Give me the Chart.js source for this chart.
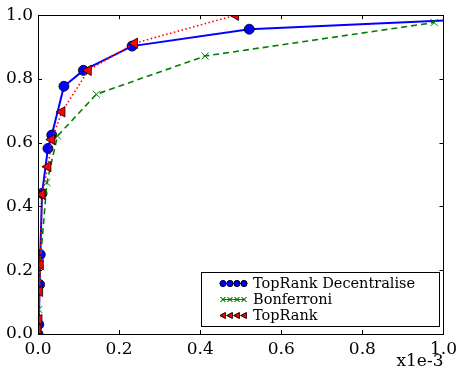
<!DOCTYPE html>
<html>
<head>
<meta charset="utf-8">
<script src="https://cdn.jsdelivr.net/npm/chart.js@4/dist/chart.umd.min.js"></script>
<style>
html,body{margin:0;padding:0;background:#fff;}
#wrap{width:462px;height:369px;position:relative;}
</style>
</head>
<body>
<div id="wrap"><canvas id="c" width="462" height="369"></canvas></div>
<script>
// x values in units of 1e-3
const decX = [0, 0.002, 0.004, 0.0056, 0.01, 0.0245, 0.034, 0.064, 0.112, 0.232, 0.521, 1.1];
const decY = [0, 0.03, 0.155, 0.249, 0.441, 0.582, 0.624, 0.777, 0.827, 0.903, 0.956, 0.989];
const bonX = [0, 0.002, 0.005, 0.022, 0.048, 0.144, 0.412, 0.977];
const bonY = [0, 0.077, 0.217, 0.475, 0.621, 0.752, 0.872, 0.977];
const topX = [0, 0.0024, 0.004, 0.0056, 0.01, 0.0245, 0.034, 0.059, 0.124, 0.238, 0.487, 1.1];
const topY = [0.014, 0.045, 0.134, 0.217, 0.438, 0.525, 0.61, 0.697, 0.827, 0.912, 1.0, 1.0];
const xTicks = [0, 0.2, 0.4, 0.6, 0.8, 1.0];
const yTicks = [0, 0.2, 0.4, 0.6, 0.8, 1.0];
const labels = ['TopRank Decentralise', 'Bonferroni', 'TopRank'];

const pts = (xs, ys) => xs.map((x, i) => ({x: x, y: ys[i]}));
const FONT = 'DejaVu Serif';

const frame = {
  id: 'frame',
  afterDatasetsDraw(chart) {
    const {ctx, chartArea: a, scales} = chart;
    ctx.save();
    ctx.strokeStyle = '#000';
    ctx.lineWidth = 1;
    ctx.beginPath();
    xTicks.forEach(v => {
      const px = Math.round(scales.x.getPixelForValue(v)) + 0.5;
      ctx.moveTo(px, a.bottom); ctx.lineTo(px, a.bottom - 4);
      ctx.moveTo(px, a.top); ctx.lineTo(px, a.top + 4);
    });
    yTicks.forEach(v => {
      const py = Math.round(scales.y.getPixelForValue(v)) + 0.5;
      ctx.moveTo(a.left, py); ctx.lineTo(a.left + 4, py);
      ctx.moveTo(a.right, py); ctx.lineTo(a.right - 4, py);
    });
    ctx.stroke();
    ctx.strokeRect(Math.round(a.left) + 0.5, Math.round(a.top) + 0.5,
                   Math.round(a.right - a.left), Math.round(a.bottom - a.top));
    // x multiplier label
    ctx.fillStyle = '#000';
    ctx.font = '17px "' + FONT + '"';
    ctx.textAlign = 'right';
    ctx.textBaseline = 'alphabetic';
    ctx.fillText('x1e-3', a.right, 366);
    // legend
    const lx = 201.5, ly = 272.5, lw = 238, lh = 54;
    ctx.fillStyle = '#fff';
    ctx.fillRect(lx, ly, lw, lh);
    ctx.strokeRect(lx, ly, lw, lh);
    const rows = [283.5, 299.5, 315.5];
    chart.data.datasets.forEach((ds, i) => {
      const y = rows[i];
      ctx.save();
      ctx.strokeStyle = ds.borderColor;
      ctx.lineWidth = 1;
      ctx.setLineDash([]);
      ctx.beginPath(); ctx.moveTo(222, y); ctx.lineTo(245, y); ctx.stroke();
      for (let k = 0; k < 4; k++) {
        const cx = 223 + k * 7;
        Chart.helpers.drawPoint(ctx, {
          pointStyle: ds.pointStyle, radius: 3, rotation: ds.pointRotation || 0,
          borderWidth: ds.pointBorderWidth
        }, cx, y);
        ctx.fillStyle = ds.pointBackgroundColor;
        ctx.strokeStyle = ds.pointBorderColor;
        ctx.lineWidth = ds.pointBorderWidth;
        ctx.beginPath();
        if (ds.pointStyle === 'circle') {
          ctx.arc(cx, y, 3, 0, Math.PI * 2); ctx.fill(); ctx.stroke();
        } else if (ds.pointStyle === 'crossRot') {
          ctx.moveTo(cx - 2.5, y - 2.5); ctx.lineTo(cx + 2.5, y + 2.5);
          ctx.moveTo(cx - 2.5, y + 2.5); ctx.lineTo(cx + 2.5, y - 2.5); ctx.stroke();
        } else {
          ctx.moveTo(cx - 3, y); ctx.lineTo(cx + 2.5, y - 3); ctx.lineTo(cx + 2.5, y + 3);
          ctx.closePath(); ctx.fill(); ctx.stroke();
        }
      }
      ctx.restore();
      ctx.fillStyle = '#000';
      ctx.font = '14.5px "' + FONT + '"';
      ctx.textAlign = 'left';
      ctx.textBaseline = 'middle';
      ctx.fillText(labels[i], 253, y + 1);
    });
    ctx.restore();
  }
};

new Chart(document.getElementById('c'), {
  type: 'scatter',
  data: {
    datasets: [
      {
        label: labels[0], data: pts(decX, decY), showLine: true,
        borderColor: '#0000ff', borderWidth: 2, order: 2, clip: 0,
        pointStyle: 'circle', pointRadius: 5, pointBackgroundColor: '#0000ff',
        pointBorderColor: '#000', pointBorderWidth: 0.8
      },
      {
        label: labels[1], data: pts(bonX, bonY), showLine: true,
        borderColor: '#008000', borderWidth: 1.6, borderDash: [6, 4], order: 1, clip: 0,
        pointStyle: 'crossRot', pointRadius: 5, pointBackgroundColor: '#008000',
        pointBorderColor: '#008000', pointBorderWidth: 1
      },
      {
        label: labels[2], data: pts(topX, topY), showLine: true,
        borderColor: '#ff0000', borderWidth: 1.6, borderDash: [1.5, 2.5], order: 0, clip: 0,
        pointStyle: 'triangle', pointRotation: -90, pointRadius: 6, pointBackgroundColor: '#ff0000',
        pointBorderColor: '#000', pointBorderWidth: 0.8
      }
    ]
  },
  options: {
    responsive: false,
    animation: false,
    layout: {padding: {top: 15, right: 14, left: 0, bottom: 0}},
    plugins: {legend: {display: false}, tooltip: {enabled: false}},
    scales: {
      x: {
        type: 'linear', min: 0, max: 1,
        afterFit(s) { s.height = 35; },
        afterBuildTicks(s) { s.ticks = xTicks.map(v => ({value: v})); },
        grid: {display: false, drawTicks: false},
        border: {display: false},
        ticks: {
          padding: 5, color: '#000', font: {family: FONT, size: 17},
          callback: v => v.toFixed(1), maxRotation: 0, autoSkip: false
        }
      },
      y: {
        type: 'linear', min: 0, max: 1,
        afterFit(s) { s.width = 38; },
        afterBuildTicks(s) { s.ticks = yTicks.map(v => ({value: v})); },
        grid: {display: false, drawTicks: false},
        border: {display: false},
        ticks: {
          padding: 5, color: '#000', font: {family: FONT, size: 17},
          callback: v => v.toFixed(1), autoSkip: false
        }
      }
    }
  },
  plugins: [frame]
});
</script>
</body>
</html>
